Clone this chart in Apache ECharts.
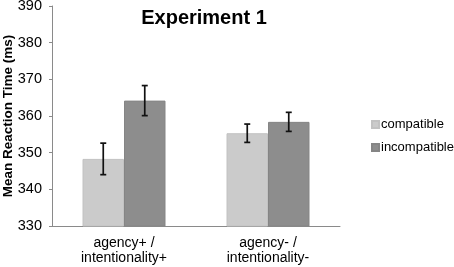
<!DOCTYPE html>
<html>
<head>
<meta charset="utf-8">
<script src="https://cdn.jsdelivr.net/npm/echarts@6/dist/echarts.min.js"></script>
<style>
  html, body { margin: 0; padding: 0; background: #fff; }
  #main { width: 454px; height: 267px; }
</style>
</head>
<body>
<div id="main"></div>
<script>
const categories = ["agency+ /\nintentionality+", "agency- /\nintentionality-"];
const compatible = [348.3, 355.3];
const incompatible = [364.2, 358.4];
const compatibleErr = [4.3, 2.5];
const incompatibleErr = [4.1, 2.6];
const yTicks = [330, 340, 350, 360, 370, 380, 390];

const chart = echarts.init(document.getElementById("main"));

// error bars drawn on top of the bars, offset to each bar centre
function errorSeries(name, values, errs, offset) {
  return {
    name: name + "_err",
    type: "custom",
    z: 10,
    data: values.map((v, i) => [i, v - errs[i], v + errs[i]]),
    renderItem: (params, api) => {
      const lo = api.coord([api.value(0), api.value(1)]);
      const hi = api.coord([api.value(0), api.value(2)]);
      const x = lo[0] + offset;
      const cap = 3;
      const style = { stroke: "#111", lineWidth: 1.7 };
      return {
        type: "group",
        children: [
          { type: "line", shape: { x1: x, y1: lo[1], x2: x, y2: hi[1] }, style },
          { type: "line", shape: { x1: x - cap, y1: lo[1], x2: x + cap, y2: lo[1] }, style },
          { type: "line", shape: { x1: x - cap, y1: hi[1], x2: x + cap, y2: hi[1] }, style },
        ],
      };
    },
  };
}

const barW = 41.5;
const font = "Liberation Sans";

let option = {
  animation: false,
  title: {
    text: "Experiment 1",
    left: 199,
    textAlign: "center",
    top: 3,
    textStyle: { fontFamily: font, fontSize: 20, fontWeight: "bold", color: "#000" },
  },
  legend: {
    orient: "vertical",
    left: 366,
    top: 113,
    itemWidth: 7,
    itemHeight: 7,
    itemGap: 10,
    icon: "rect",
    data: ["compatible", "incompatible"],
    textStyle: { fontFamily: font, fontSize: 13, color: "#000", padding: [0, 0, 0, -3] },
  },
  grid: { left: 52, right: 114, top: 6, bottom: 41, outerBoundsMode: "none" },
  xAxis: {
    type: "category",
    data: categories,
    axisLine: { lineStyle: { color: "#8a8a8a", width: 1 } },
    axisTick: { show: false },
    axisLabel: { fontFamily: font, fontSize: 14, color: "#000", lineHeight: 15, margin: 10 },
  },
  yAxis: {
    type: "value",
    min: yTicks[0],
    max: yTicks[yTicks.length - 1],
    interval: 10,
    name: "Mean Reaction Time (ms)",
    nameLocation: "middle",
    nameGap: 37,
    nameMoveOverlap: false,
    nameTextStyle: { fontFamily: font, fontSize: 13.5, fontWeight: "bold", color: "#000" },
    axisLine: { show: true, lineStyle: { color: "#8a8a8a", width: 1 } },
    axisTick: { show: true, length: 3, lineStyle: { color: "#8a8a8a" } },
    splitLine: { show: false },
    axisLabel: { fontFamily: font, fontSize: 14.5, color: "#000", margin: 10 },
  },
  series: [
    {
      name: "compatible",
      type: "bar",
      data: compatible,
      barWidth: barW,
      barGap: "0%",
      itemStyle: { color: "#cbcbcb", borderColor: "#c2c2c2", borderWidth: 1 },
    },
    {
      name: "incompatible",
      type: "bar",
      data: incompatible,
      barWidth: barW,
      itemStyle: { color: "#8d8d8d", borderColor: "#858585", borderWidth: 1 },
    },
    errorSeries("compatible", compatible, compatibleErr, -barW / 2),
    errorSeries("incompatible", incompatible, incompatibleErr, barW / 2),
  ],
};
chart.setOption(option);
</script>
</body>
</html>
